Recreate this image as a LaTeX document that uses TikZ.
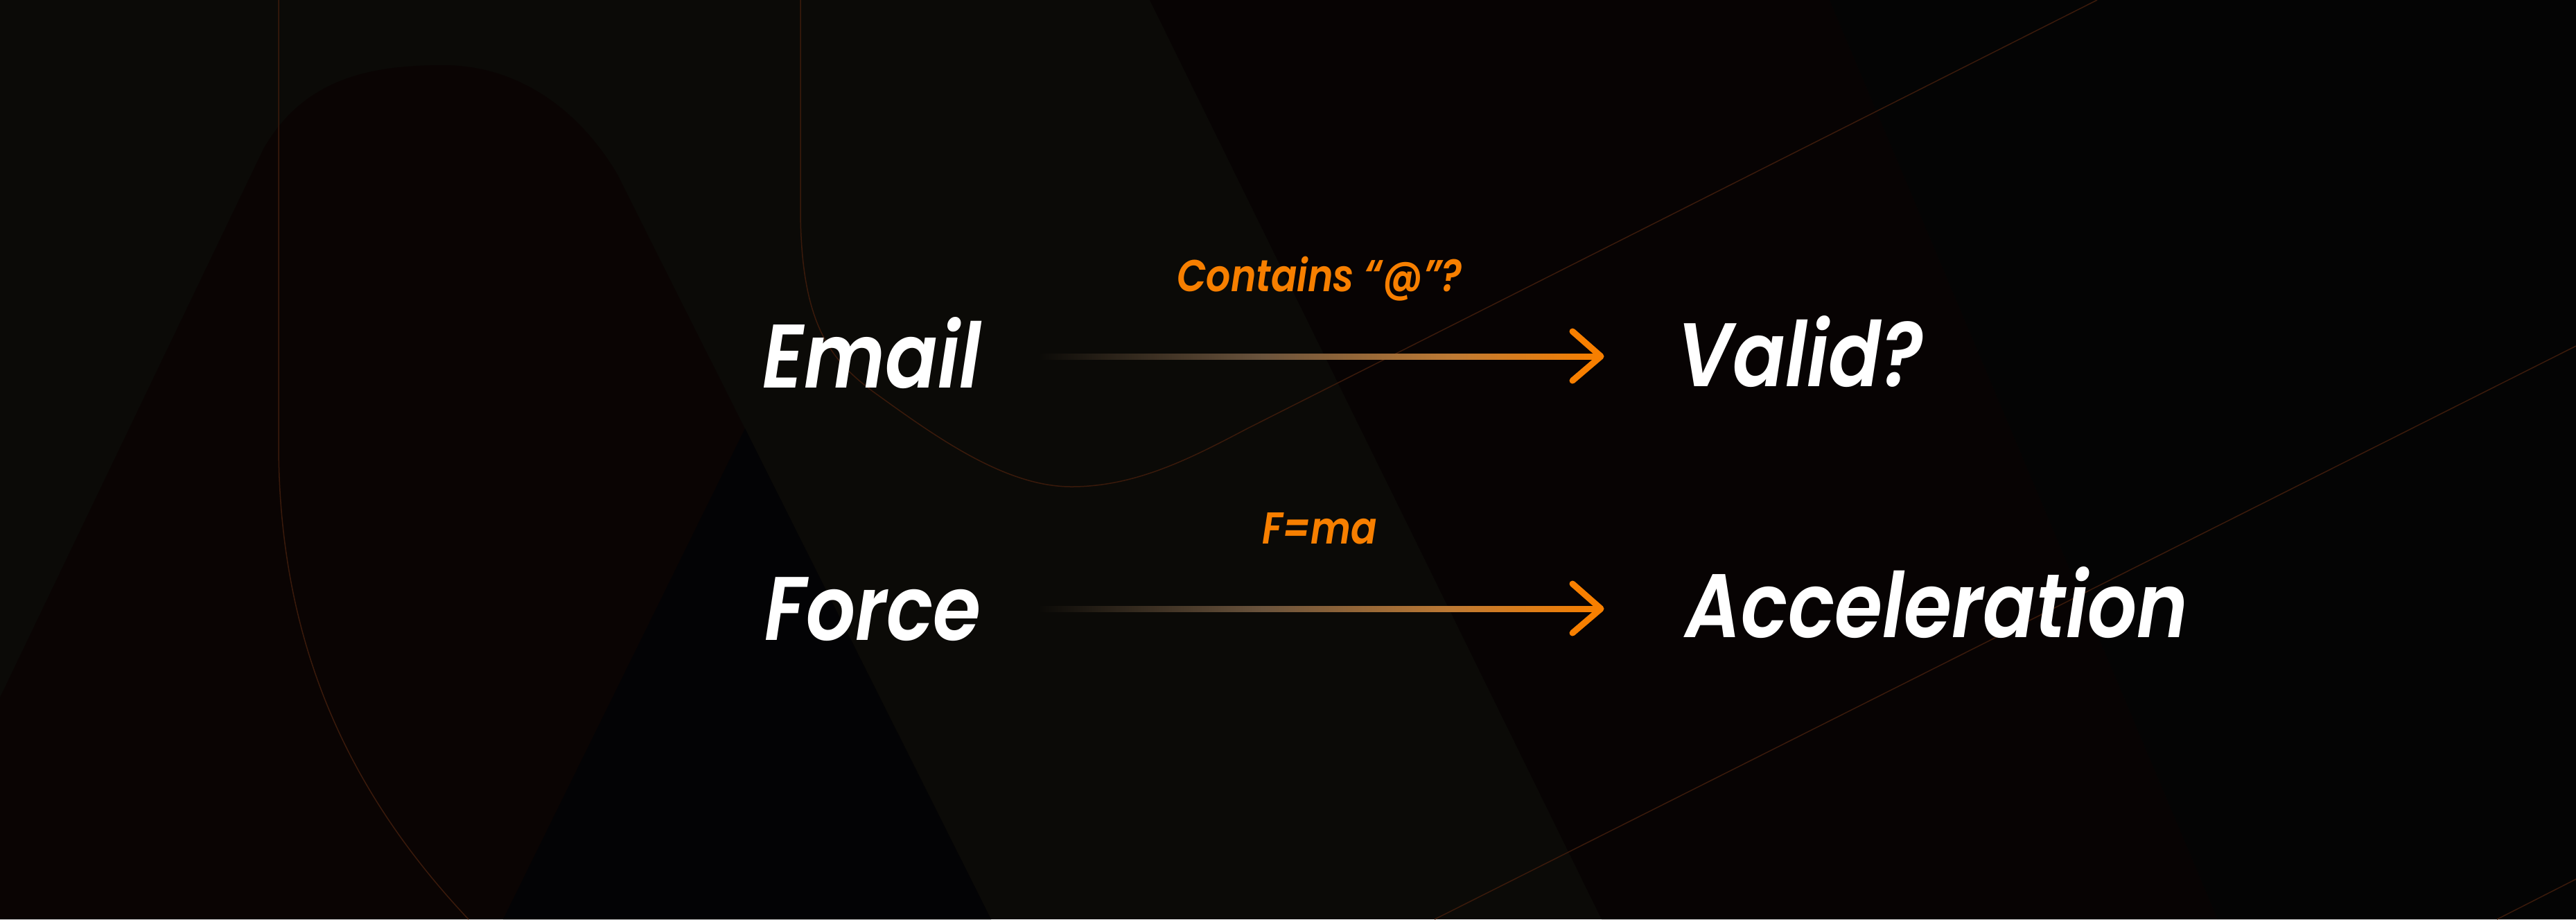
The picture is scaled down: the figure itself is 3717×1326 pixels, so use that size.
\documentclass[tikz,border=0pt]{standalone}
\usepackage{fontspec}
\usetikzlibrary{calc}
\newfontfamily\popit{Poppins SemiBold Italic}[FakeStretch=0.86]

\definecolor{bgolive}{HTML}{0B0A07}
\definecolor{archred}{HTML}{0A0403}
\definecolor{wedgeblue}{HTML}{030305}
\definecolor{bandred}{HTML}{070303}
\definecolor{farblack}{HTML}{040404}
\definecolor{rimline}{HTML}{3A1A0B}
\definecolor{arroworange}{HTML}{F77F00}
\definecolor{tanmid}{HTML}{6A533C}
\definecolor{tanwarm}{HTML}{BE7A34}

% bar that fades in from the background towards the arrow head
\pgfdeclarehorizontalshading{barfade}{100bp}{%
  color(0bp)=(bgolive); color(25bp)=(bgolive); color(45bp)=(tanmid);
  color(62bp)=(tanwarm); color(75bp)=(arroworange); color(100bp)=(arroworange)}

\tikzset{
  term/.style={font=\popit\fontsize{37}{40}\selectfont, text=white, inner sep=0pt, anchor=base west},
  rule/.style={font=\popit\fontsize{18.3}{20}\selectfont, text=arroworange, inner sep=0pt, anchor=base},
  chevron/.style={draw=arroworange, line width=0.09cm, line cap=round, line join=round},
  rim/.style={draw=rimline, line width=0.015cm},
}

\begin{document}
\begin{tikzpicture}[x=0.01cm, y=-0.01cm]
\useasboundingbox (0,0) rectangle (3717,1326);

% backdrop panels
\fill[bgolive] (0,0) rectangle (3717,1326);
\fill[archred] (0,1326) -- (0,1006) -- (380,215)
  .. controls (440,110) and (540,94) .. (640,94)
  .. controls (740,94) and (830,150) .. (890,250) -- (1430,1326) -- cycle;
\fill[wedgeblue] (1075,618) -- (726,1326) -- (1430,1326) -- cycle;
\fill[bandred] (1659,0) -- (2311,1326) -- (3200,1326) -- (2640,0) -- cycle;
\fill[farblack] (2640,0) -- (3200,1326) -- (3717,1326) -- (3717,0) -- cycle;

% thin outlines
\draw[rim] (402,0) -- (402,640) .. controls (402,950) and (520,1160) .. (676,1326);
\draw[rim] (1155,0) -- (1155,300)
  .. controls (1155,470) and (1200,520) .. (1260,565)
  .. controls (1350,630) and (1450,702) .. (1546,702)
  .. controls (1640,702) and (1720,660) .. (1800,618) -- (3026,0);
\draw[rim] (3717,499) -- (2070,1326);
\draw[rim] (3717,1268) -- (3603,1326);

% terms
\node[term] (email) at (1100,559) {Email};
\node[term] (valid) at (2420,557) {Valid?};
\node[term] (force) at (1103,923) {Force};
\node[term] (accel) at (2432,919) {Acceleration};

% arrow ends
\coordinate (e1) at (1498,514);
\coordinate (t1) at (2310,514);
\coordinate (e2) at (1498,878);
\coordinate (t2) at (2310,878);

% connectors
\shade[shading=barfade] ($(e1)+(0,-4)$) rectangle ($(t1)+(-4,4)$);
\draw[chevron] ($(t1)+(-41,-36)$) -- (t1) -- ($(t1)+(-41,35)$);
\shade[shading=barfade] ($(e2)+(0,-4)$) rectangle ($(t2)+(-4,4)$);
\draw[chevron] ($(t2)+(-41,-36)$) -- (t2) -- ($(t2)+(-41,35)$);

% rule labels
\node[rule] (r1) at ($(e1)!0.5!(t1)+(0,-94)$) {Contains “@”?};
\node[rule] (r2) at ($(e2)!0.5!(t2)+(0,-94)$) {F=ma};
\end{tikzpicture}
\end{document}
